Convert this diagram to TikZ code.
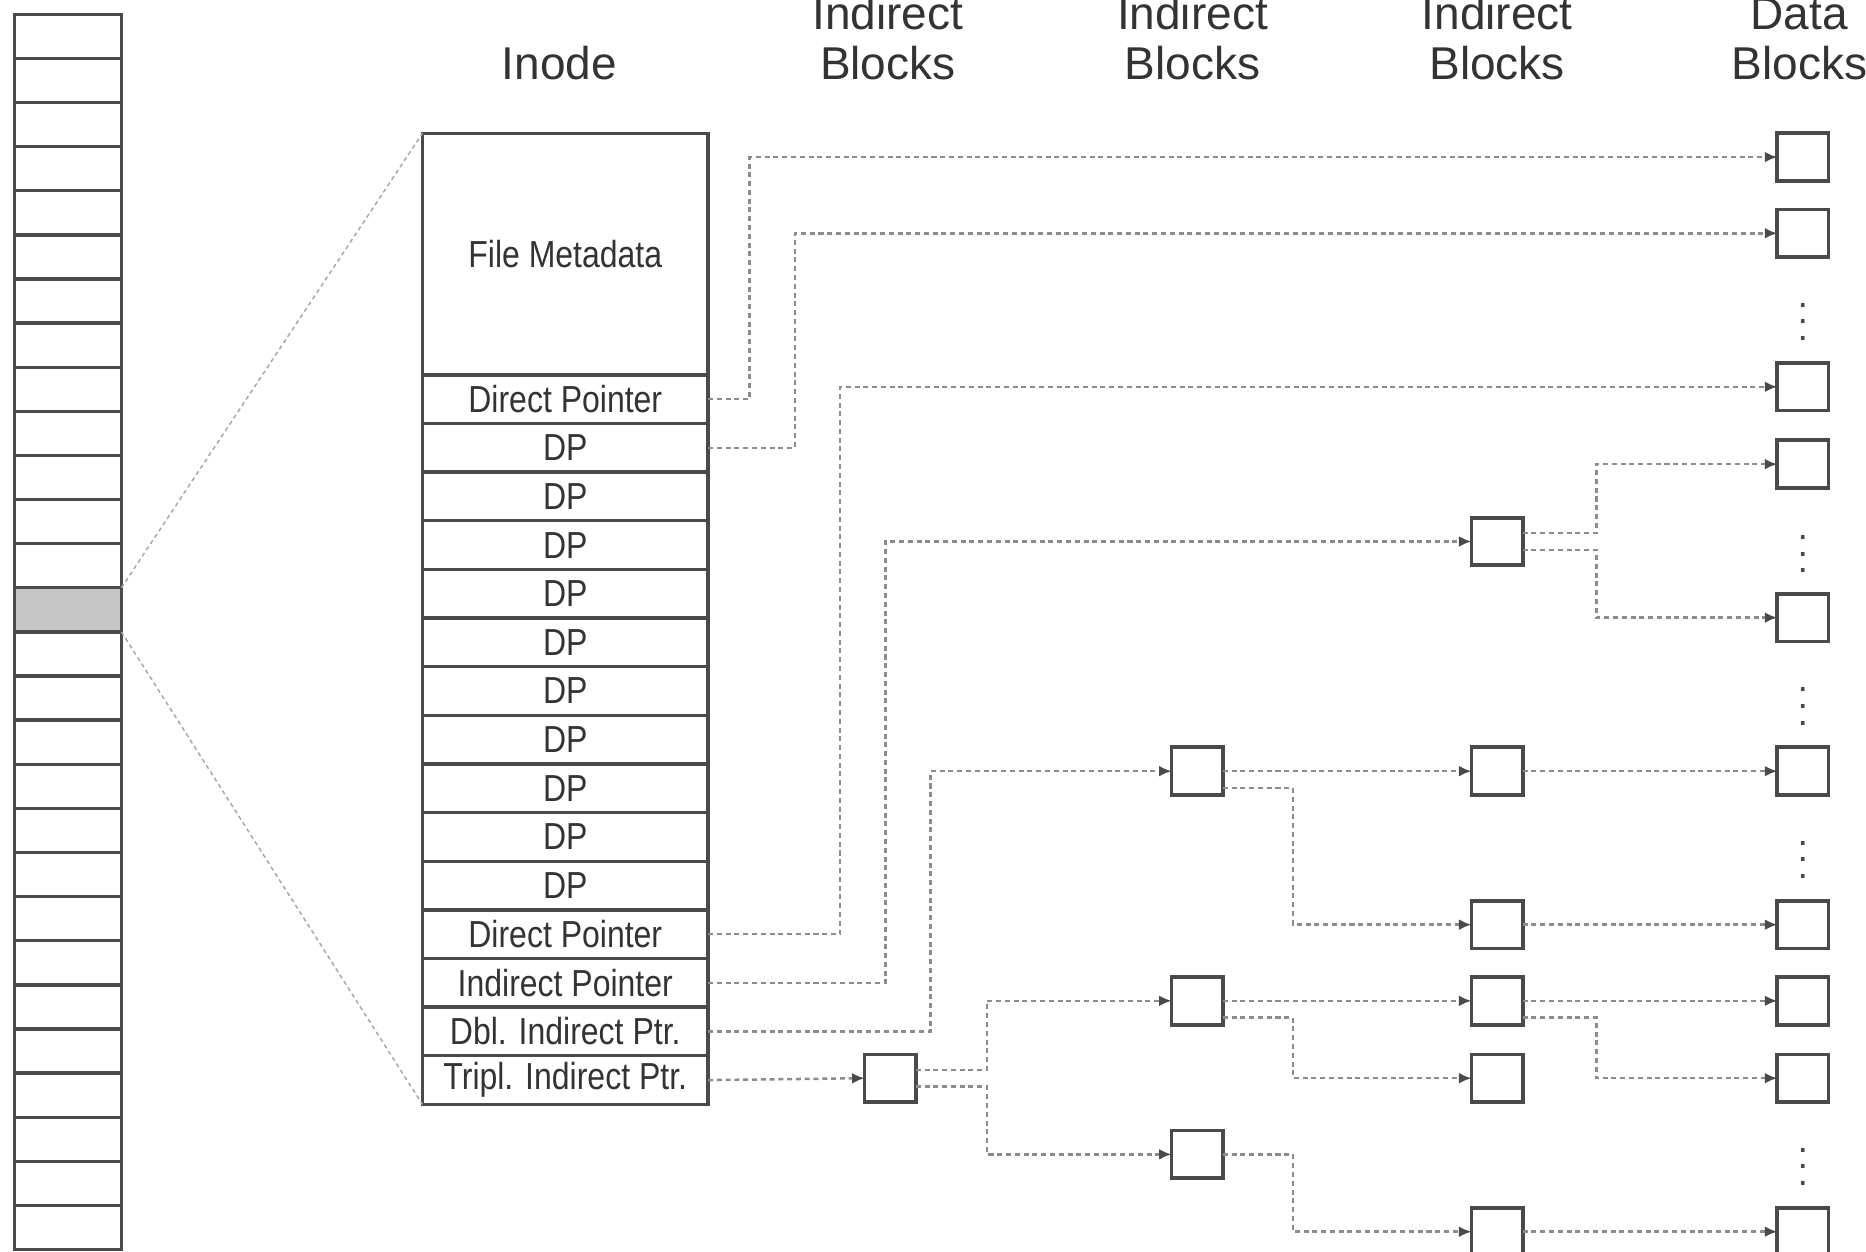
\documentclass[tikz,border=0pt]{standalone}
\usepackage{fontspec}
\setmainfont{Liberation Sans}
\newfontfamily\cellfont[FakeStretch=0.85]{Liberation Sans}
\usetikzlibrary{arrows.meta, positioning}
\definecolor{edge}{HTML}{4A4A4A}
\definecolor{wire}{HTML}{8C8C8C}
\definecolor{ink}{HTML}{333333}
\tikzset{
    slot/.style={rectangle, draw=edge, line width=0.8pt, minimum width=9mm, minimum height=3.707mm, inner sep=0pt, outer sep=0pt},
    cell/.style={rectangle, draw=edge, line width=0.8pt, minimum width=24mm, minimum height=4.087mm, inner sep=0pt, outer sep=0pt, font=\cellfont\fontsize{9}{9}\selectfont, text=ink},
    blk/.style={rectangle, draw=edge, line width=0.9pt, minimum width=4.3mm, minimum height=4.0mm, inner sep=0pt, outer sep=0pt},
    head/.style={align=center, font=\fontsize{11}{12}\selectfont, text=ink},
    link/.style={wire, line width=0.6pt, dash pattern=on 1.2pt off 0.9pt, -{Latex[length=3pt,width=2.6pt,color=edge]}},
    zoomline/.style={gray!70, line width=0.35pt, dash pattern=on 1pt off 0.8pt},
    more/.style={text=edge, inner sep=0pt, font=\fontsize{9}{9}\selectfont}
}

\begin{document}
\begin{tikzpicture}[x=0.1mm, y=-0.1mm]
    \useasboundingbox (0,0) rectangle (1568,1052);

    % disk column with the inode block shaded
    \foreach \i in {1,...,28} {
        \ifnum\i=14 \def\slotfill{gray!45}\else\def\slotfill{white}\fi
        \node[slot, fill=\slotfill] (slot\i) at (57,{12+37.07*(\i-0.5)}) {};
    }

    % inode
    \node[cell, minimum height=20.3mm, text depth=-1.5mm] (meta) at (475,213.5) {File Metadata};
    \node[cell, below=0pt of meta] (dir1) {Direct Pointer};
    \node[cell, below=0pt of dir1] (dp1) {DP};
    \foreach \i [evaluate=\i as \j using int(\i-1)] in {2,...,10}
        \node[cell, below=0pt of dp\j] (dp\i) {DP};
    \node[cell, below=0pt of dp10] (dir2) {Direct Pointer};
    \node[cell, below=0pt of dir2] (ind) {Indirect Pointer};
    \node[cell, below=0pt of ind] (dbl) {Dbl. Indirect Ptr.};
    \node[cell, below=0pt of dbl] (trpl) {Tripl. Indirect Ptr.};

    \draw[zoomline] (slot14.north east) -- (meta.north west);
    \draw[zoomline] (slot14.south east) -- (trpl.south west);

    % column headers
    \node[head, anchor=base] (inodehd) at (470,67) {Inode};
    \node[head, anchor=base] (ind1hd) at (746,67) {Indirect\\Blocks};
    \node[head, anchor=base] (ind2hd) at (1002,67) {Indirect\\Blocks};
    \node[head, anchor=base] (ind3hd) at (1258,67) {Indirect\\Blocks};
    \node[head, anchor=base] (datahd) at (1512,67) {Data\\Blocks};

    % indirect blocks
    \node[blk] (a1) at (748,906) {};
    \node[blk] (b1) at (1006,648) {};
    \node[blk] (b2) at (1006,841) {};
    \node[blk] (b3) at (1006,970) {};
    \foreach \y [count=\i] in {455,648,777,841,906,1035}
        \node[blk] (c\i) at (1258,\y) {};

    % data blocks
    \foreach \y [count=\i] in {132,196,325,390,519,648,777,841,906,1035}
        \node[blk] (d\i) at (1515,\y) {};
    \foreach \y [count=\i] in {260,455,583,712,970}
        \node[more] (gap\i) at (1515,\y) {$\vdots$};

    % pointers out of the inode
    \draw[link] (dir1.east) -- ++(35,0) |- (d1.west);
    \draw[link] (dp1.east) -- ++(73,0) |- (d2.west);
    \draw[link] (dir2.east) -- ++(111,0) |- (d3.west);
    \draw[link] (ind.east) -- ++(149,0) |- (c1.west);
    \draw[link] (dbl.east) -- ++(187,0) |- (b1.west);
    \draw[link] (trpl.east) -- (a1.west);

    % single indirect
    \draw[link] ([yshift=2pt]c1.east) -- ++(62,0) |- (d4.west);
    \draw[link] ([yshift=-2pt]c1.east) -- ++(62,0) |- (d5.west);

    % double indirect
    \draw[link] (b1.east) -- (c2.west);
    \draw[link] ([yshift=-4pt]b1.east) -- ++(59,0) |- (c3.west);
    \draw[link] (c2.east) -- (d6.west);
    \draw[link] (c3.east) -- (d7.west);

    % triple indirect
    \draw[link] ([yshift=2pt]a1.east) -- ++(60,0) |- (b2.west);
    \draw[link] ([yshift=-2pt]a1.east) -- ++(60,0) |- (b3.west);
    \draw[link] (b2.east) -- (c4.west);
    \draw[link] ([yshift=-4pt]b2.east) -- ++(59,0) |- (c5.west);
    \draw[link] (c4.east) -- (d8.west);
    \draw[link] ([yshift=-4pt]c4.east) -- ++(62,0) |- (d9.west);
    \draw[link] (b3.east) -- ++(59,0) |- (c6.west);
    \draw[link] (c6.east) -- (d10.west);
\end{tikzpicture}
\end{document}
